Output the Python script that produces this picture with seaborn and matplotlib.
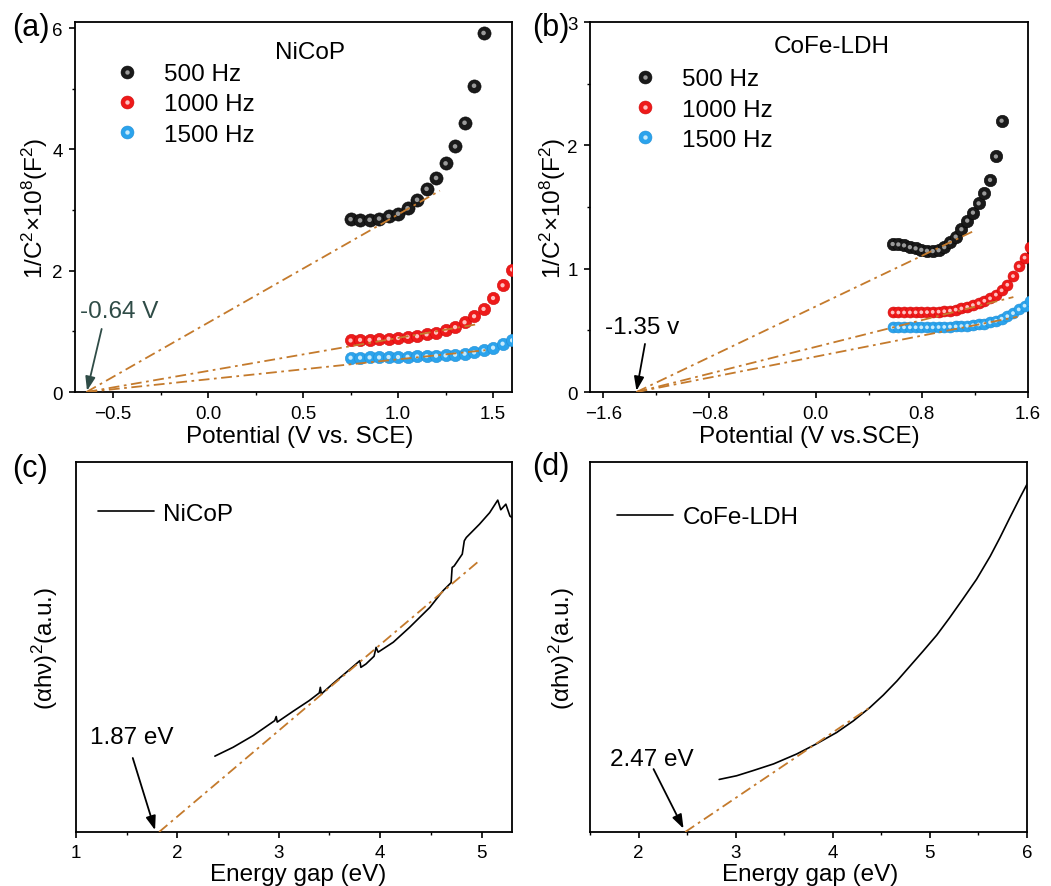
import matplotlib
matplotlib.use("Agg")
import matplotlib.pyplot as plt
import seaborn as sns
from matplotlib.lines import Line2D
from matplotlib.legend_handler import HandlerTuple
from matplotlib.ticker import MultipleLocator, NullLocator

# ---------------- data ----------------
# (a) NiCoP Mott-Schottky
a_v500 = [0.75, 0.80, 0.85, 0.90, 0.95, 1.00, 1.05, 1.10, 1.15, 1.20, 1.25, 1.30, 1.35, 1.40, 1.45]
a_c500 = [2.85, 2.83, 2.84, 2.86, 2.90, 2.94, 3.03, 3.17, 3.35, 3.53, 3.77, 4.05, 4.44, 5.05, 5.92]
a_vhf = [0.75, 0.80, 0.85, 0.90, 0.95, 1.00, 1.05, 1.10, 1.15, 1.20, 1.25, 1.30, 1.35, 1.40,
         1.45, 1.50, 1.55, 1.60]
a_c1000 = [0.85, 0.86, 0.86, 0.87, 0.88, 0.89, 0.91, 0.92, 0.95, 0.98, 1.02, 1.07, 1.15, 1.25,
           1.37, 1.55, 1.76, 2.02]
a_c1500 = [0.566, 0.566, 0.571, 0.571, 0.577, 0.577, 0.582, 0.588, 0.593, 0.599, 0.604, 0.615,
           0.632, 0.654, 0.687, 0.731, 0.797, 0.852]
a_fit500_v = [-0.64, 1.22]
a_fit500_c = [0.0, 3.32]
a_fit1000_v = [-0.64, 1.42]
a_fit1000_c = [0.0, 1.12]
a_fit1500_v = [-0.64, 1.46]
a_fit1500_c = [0.0, 0.69]

# (b) CoFe-LDH Mott-Schottky
b_v500 = [0.58, 0.623, 0.666, 0.71, 0.753, 0.796, 0.839, 0.882, 0.926, 0.969, 1.012, 1.055,
          1.098, 1.142, 1.185, 1.228, 1.271, 1.314, 1.358, 1.401]
b_c500 = [1.20, 1.197, 1.189, 1.175, 1.165, 1.153, 1.145, 1.143, 1.150, 1.175, 1.215, 1.26,
          1.32, 1.39, 1.455, 1.53, 1.61, 1.72, 1.91, 2.20]
b_vhf = [0.58, 0.623, 0.666, 0.71, 0.753, 0.796, 0.839, 0.882, 0.926, 0.969, 1.012, 1.055,
         1.098, 1.142, 1.185, 1.228, 1.271, 1.314, 1.358, 1.401, 1.444, 1.487, 1.53, 1.574, 1.617]
b_c1000 = [0.645, 0.645, 0.645, 0.645, 0.646, 0.647, 0.648, 0.650, 0.652, 0.655, 0.660, 0.668,
           0.678, 0.690, 0.705, 0.720, 0.740, 0.760, 0.790, 0.825, 0.870, 0.940, 1.020, 1.090, 1.180]
b_c1500 = [0.525, 0.525, 0.525, 0.525, 0.525, 0.525, 0.525, 0.525, 0.527, 0.528, 0.530, 0.532,
           0.535, 0.538, 0.542, 0.548, 0.555, 0.565, 0.578, 0.595, 0.615, 0.640, 0.670, 0.700, 0.735]
b_fit500_v = [-1.35, 1.20]
b_fit500_c = [0.0, 1.31]
b_fit1000_v = [-1.35, 1.49]
b_fit1000_c = [0.0, 0.77]
b_fit1500_v = [-1.35, 1.52]
b_fit1500_c = [0.0, 0.61]

# (c) NiCoP Tauc plot
c_energy = [2.37, 2.55, 2.75, 2.96, 2.975, 2.985, 3.14, 3.30, 3.40, 3.41, 3.42, 3.53, 3.66, 3.80,
            3.81, 3.86, 3.94, 3.96, 3.98, 4.13, 4.29, 4.49, 4.62, 4.70, 4.71, 4.73, 4.81, 4.83,
            4.85, 4.98, 5.08, 5.16, 5.19, 5.24, 5.28, 5.30]
c_ahv = [0.205, 0.229, 0.261, 0.301, 0.312, 0.297, 0.326, 0.355, 0.376, 0.391, 0.373, 0.400,
         0.430, 0.463, 0.445, 0.454, 0.475, 0.499, 0.486, 0.513, 0.553, 0.607, 0.652, 0.674,
         0.715, 0.719, 0.751, 0.787, 0.796, 0.832, 0.863, 0.897, 0.871, 0.886, 0.854, 0.850]
c_fit_e = [1.82, 4.99]
c_fit_y = [0.0, 0.736]

# (d) CoFe-LDH Tauc plot
d_energy = [2.83, 3.01, 3.18, 3.39, 3.63, 3.83, 4.04, 4.21, 4.38, 4.52, 4.66, 4.79, 4.93, 5.07,
            5.20, 5.34, 5.48, 5.62, 5.72, 5.82, 5.93, 6.0]
d_ahv = [0.142, 0.152, 0.166, 0.184, 0.211, 0.238, 0.269, 0.300, 0.336, 0.370, 0.408, 0.447,
         0.489, 0.532, 0.578, 0.630, 0.683, 0.745, 0.795, 0.848, 0.905, 0.940]
d_fit_e = [2.48, 4.40]
d_fit_y = [0.0, 0.34]

freq_labels = ["500 Hz", "1000 Hz", "1500 Hz"]

# ---------------- style ----------------
sns.set_theme(style="ticks")
plt.rcParams["font.family"] = ["Liberation Sans", "DejaVu Sans"]
plt.rcParams["mathtext.fontset"] = "custom"
plt.rcParams["mathtext.rm"] = "Liberation Sans"
plt.rcParams["mathtext.it"] = "Liberation Sans:italic"
plt.rcParams["mathtext.bf"] = "Liberation Sans:bold"
plt.rcParams["axes.edgecolor"] = "black"
plt.rcParams["axes.linewidth"] = 1.3
plt.rcParams["text.color"] = "black"
plt.rcParams["axes.labelcolor"] = "black"
plt.rcParams["xtick.color"] = "black"
plt.rcParams["ytick.color"] = "black"

FIT = "#C47A2C"
GREEN = "#2F4C47"
FIT_DASH = (0, (6, 2.5, 1.5, 2.5))
SPH = {
    "black": ("#1a1a1a", "#050505", "#9a9a9a"),
    "red": ("#EE1A1A", "#D00808", "#FFC0C0"),
    "blue": ("#2BA3EC", "#1E8ED6", "#C6EAFC"),
}
LBL = 17.5
TICK = 13.5

fig = plt.figure(figsize=(10.51, 8.87), dpi=100)
ax_a = fig.add_axes([0.0714, 0.5569, 0.4158, 0.4171])
ax_b = fig.add_axes([0.5614, 0.5569, 0.4167, 0.4171])
ax_c = fig.add_axes([0.0723, 0.0609, 0.4148, 0.4171])
ax_d = fig.add_axes([0.5614, 0.0609, 0.4158, 0.4171])


def spheres(ax, x, y, key, s):
    face, edge, hi = SPH[key]
    sns.scatterplot(x=x, y=y, ax=ax, s=s, color=face, edgecolor=edge, linewidth=0.4,
                    zorder=3, legend=False)
    sns.scatterplot(x=x, y=y, ax=ax, s=s * 0.12, color=hi, edgecolor="none", linewidth=0,
                    zorder=4, legend=False)


def fit(ax, x, y):
    ax.plot(x, y, color=FIT, lw=1.3, ls=FIT_DASH, zorder=5)


def style_axis(ax):
    ax.tick_params(axis="both", which="major", direction="out", length=4.5, width=1.2,
                   labelsize=TICK, color="black", labelcolor="black", pad=4.5,
                   top=False, right=False)
    ax.tick_params(axis="both", which="minor", direction="out", length=2.5, width=1.0,
                   color="black", top=False, right=False)
    for sp in ax.spines.values():
        sp.set_visible(True)
        sp.set_linewidth(1.3)
        sp.set_color("black")


def sphere_legend(ax, anchor):
    handles = []
    for key in ["black", "red", "blue"]:
        face, edge, hi = SPH[key]
        h1 = Line2D([], [], ls="", marker="o", markersize=9.3, mfc=face, mec=edge, mew=0.4)
        h2 = Line2D([], [], ls="", marker="o", markersize=3.2, mfc=hi, mec="none")
        handles.append((h1, h2))
    ax.legend(handles, freq_labels, handler_map={tuple: HandlerTuple(ndivide=1)},
              loc="upper left", bbox_to_anchor=anchor, frameon=False, fontsize=LBL,
              handlelength=1.0, handletextpad=1.0, labelspacing=0.34, borderpad=0,
              borderaxespad=0)


def arrow(ax, tip, start, color):
    ax.annotate("", xy=tip, xytext=start,
                arrowprops=dict(arrowstyle="-|>,head_length=0.7,head_width=0.25",
                                color=color, lw=1.3, mutation_scale=12,
                                shrinkA=0, shrinkB=0), zorder=6)


# ---------------- (a) ----------------
spheres(ax_a, a_v500, a_c500, "black", 90)
spheres(ax_a, a_vhf, a_c1000, "red", 78)
spheres(ax_a, a_vhf, a_c1500, "blue", 78)
fit(ax_a, a_fit500_v, a_fit500_c)
fit(ax_a, a_fit1000_v, a_fit1000_c)
fit(ax_a, a_fit1500_v, a_fit1500_c)
ax_a.set_xlim(-0.7, 1.6)
ax_a.set_ylim(0, 6.1)
ax_a.xaxis.set_major_locator(MultipleLocator(0.5))
ax_a.xaxis.set_minor_locator(MultipleLocator(0.25))
ax_a.yaxis.set_major_locator(MultipleLocator(2))
ax_a.yaxis.set_minor_locator(MultipleLocator(1))
style_axis(ax_a)
ax_a.set_xlabel("Potential (V vs. SCE)", fontsize=LBL)
ax_a.set_ylabel(r"1/C$^{2}$×10$^{8}$(F$^{2}$)", fontsize=LBL)
ax_a.xaxis.set_label_coords(0.513, -0.088)
ax_a.yaxis.set_label_coords(-0.058, 0.5)
ax_a.text(0.538, 0.918, "NiCoP", transform=ax_a.transAxes, fontsize=LBL,
          ha="center", va="center")
sphere_legend(ax_a, (0.0915, 0.889))
ax_a.text(-0.672, 1.335, "-0.64 V", color=GREEN, fontsize=LBL, ha="left", va="center")
arrow(ax_a, (-0.637, 0.02), (-0.56, 1.04), GREEN)

# ---------------- (b) ----------------
spheres(ax_b, b_v500, b_c500, "black", 80)
spheres(ax_b, b_vhf, b_c1000, "red", 62)
spheres(ax_b, b_vhf, b_c1500, "blue", 62)
fit(ax_b, b_fit500_v, b_fit500_c)
fit(ax_b, b_fit1000_v, b_fit1000_c)
fit(ax_b, b_fit1500_v, b_fit1500_c)
ax_b.set_xlim(-1.7, 1.6)
ax_b.set_ylim(0, 3.0)
ax_b.xaxis.set_major_locator(MultipleLocator(0.8))
ax_b.xaxis.set_minor_locator(MultipleLocator(0.4))
ax_b.yaxis.set_major_locator(MultipleLocator(1))
ax_b.yaxis.set_minor_locator(MultipleLocator(0.5))
style_axis(ax_b)
ax_b.set_xlabel("Potential (V vs.SCE)", fontsize=LBL)
ax_b.set_ylabel(r"1/C$^{2}$×10$^{8}$(F$^{2}$)", fontsize=LBL)
ax_b.xaxis.set_label_coords(0.5, -0.088)
ax_b.yaxis.set_label_coords(-0.05, 0.5)
ax_b.text(0.553, 0.935, "CoFe-LDH", transform=ax_b.transAxes, fontsize=LBL,
          ha="center", va="center")
sphere_legend(ax_b, (0.098, 0.875))
ax_b.text(-1.587, 0.527, "-1.35 v", color="black", fontsize=LBL, ha="left", va="center")
arrow(ax_b, (-1.35, 0.01), (-1.286, 0.39), "black")

# ---------------- (c) ----------------
sns.lineplot(x=c_energy, y=c_ahv, ax=ax_c, sort=False, estimator=None, color="black",
             lw=1.2, label="NiCoP", zorder=3)
fit(ax_c, c_fit_e, c_fit_y)
ax_c.set_xlim(1, 5.3)
ax_c.set_ylim(0, 1)
ax_c.xaxis.set_major_locator(MultipleLocator(1))
ax_c.xaxis.set_minor_locator(MultipleLocator(0.5))
ax_c.yaxis.set_major_locator(NullLocator())
ax_c.yaxis.set_minor_locator(NullLocator())
style_axis(ax_c)
ax_c.set_xlabel("Energy gap (eV)", fontsize=LBL)
ax_c.set_ylabel(r"(αhν)$^{2}$(a.u.)", fontsize=LBL)
ax_c.xaxis.set_label_coords(0.51, -0.085)
ax_c.yaxis.set_label_coords(-0.037, 0.5)
ax_c.legend(loc="upper left", bbox_to_anchor=(0.05, 0.89), frameon=False, fontsize=LBL,
            handlelength=2.3, handletextpad=0.4, borderpad=0, borderaxespad=0)
ax_c.text(1.14, 0.256, "1.87 eV", fontsize=LBL, ha="left", va="center")
arrow(ax_c, (1.78, 0.005), (1.56, 0.20), "black")

# ---------------- (d) ----------------
sns.lineplot(x=d_energy, y=d_ahv, ax=ax_d, sort=False, estimator=None, color="black",
             lw=1.2, label="CoFe-LDH", zorder=3)
fit(ax_d, d_fit_e, d_fit_y)
ax_d.set_xlim(1.5, 6)
ax_d.set_ylim(0, 1)
ax_d.xaxis.set_major_locator(MultipleLocator(1))
ax_d.xaxis.set_minor_locator(MultipleLocator(0.5))
ax_d.yaxis.set_major_locator(NullLocator())
ax_d.yaxis.set_minor_locator(NullLocator())
style_axis(ax_d)
ax_d.set_xlabel("Energy gap (eV)", fontsize=LBL)
ax_d.set_ylabel(r"(αhν)$^{2}$(a.u.)", fontsize=LBL)
ax_d.xaxis.set_label_coords(0.503, -0.085)
ax_d.yaxis.set_label_coords(-0.03, 0.5)
ax_d.legend(loc="upper left", bbox_to_anchor=(0.062, 0.88), frameon=False, fontsize=LBL,
            handlelength=2.3, handletextpad=0.4, borderpad=0, borderaxespad=0)
ax_d.text(1.71, 0.197, "2.47 eV", fontsize=LBL, ha="left", va="center")
arrow(ax_d, (2.463, 0.009), (2.154, 0.17), "black")

# ---------------- panel labels ----------------
for lab, x, y in [("(a)", 0.0114, 0.968), ("(b)", 0.506, 0.968),
                  ("(c)", 0.0114, 0.471), ("(d)", 0.506, 0.474)]:
    fig.text(x, y, lab, fontsize=22, ha="left", va="center")

fig.savefig("out.png", dpi=100)
